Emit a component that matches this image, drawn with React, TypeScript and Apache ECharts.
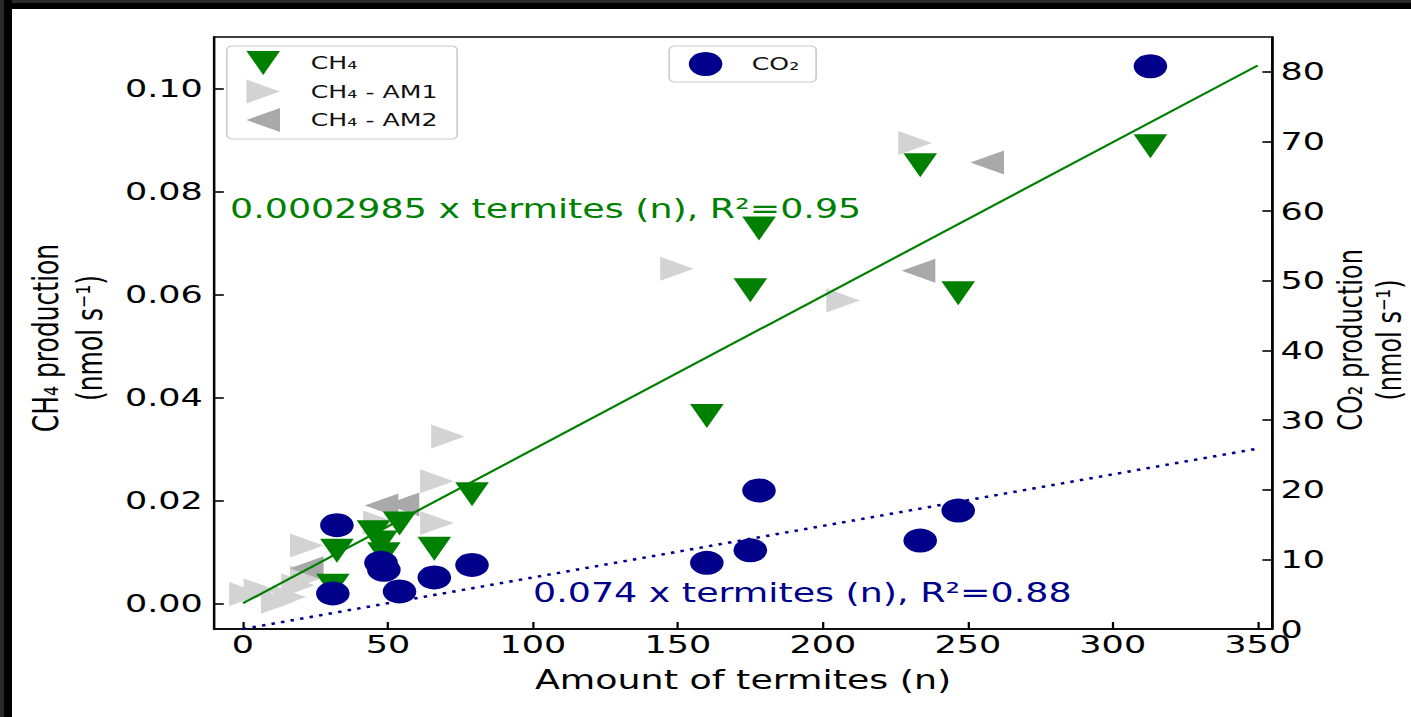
import React, { useEffect, useRef } from "react";
import * as echarts from "echarts";

// horizontal stretch of the reference picture
const S = 1.4;
const W = 1411 / S;
const H = 717;

// CH4 (green, down triangles)
const ch4X = [31, 32.4, 45, 47.6, 48.6, 54, 66, 79, 160, 175, 178, 233.6, 246.7, 313];
const ch4Y = [0.0034, 0.0102, 0.0138, 0.0118, 0.0095, 0.0155, 0.0106, 0.0212, 0.0364, 0.0608, 0.0728, 0.0851, 0.0602, 0.0888];

// CH4 - AM1 (light gray, right triangles)
const am1X = [1, 6, 12, 16, 19, 22, 22, 47.2, 66.9, 66.9, 70.7, 149.7, 207, 231.8];
const am1Y = [0.0018, 0.0025, 0.0003, 0.0012, 0.0035, 0.005, 0.0112, 0.0157, 0.0156, 0.0237, 0.0324, 0.065, 0.0588, 0.0894];

// CH4 - AM2 (dark gray, left triangles)
const am2X = [22, 47.8, 55, 233, 256.7];
const am2Y = [0.0068, 0.019, 0.0192, 0.0646, 0.0856];

// CO2 (navy circles, right axis)
const co2X = [31, 32.4, 47.6, 48.6, 54, 66, 79, 160, 175, 178, 233.6, 246.7, 313];
const co2Y = [5.1, 14.9, 9.5, 8.5, 5.4, 7.4, 9.2, 9.5, 11.3, 19.9, 12.7, 17.0, 80.8];

// regression fits
const ch4Slope = 0.0002985;
const co2Slope = 0.074;
const fitX = [0, 350];

const FONT = "DejaVu Sans";

const ICON_DOWN = "path://M0,0L10,0L5,10Z";
const ICON_RIGHT = "path://M0,0L10,5L0,10Z";
const ICON_LEFT = "path://M10,0L0,5L10,10Z";

const zip = (xs: number[], ys: number[]) => xs.map((x, i) => [x, ys[i]]);

export default function App() {
  const ref = useRef<HTMLDivElement>(null);

  useEffect(() => {
    document.body.style.margin = "0";
    document.body.style.overflow = "hidden";
    const chart = echarts.init(ref.current!, undefined, { renderer: "svg" });

    const axisLineStyle = { color: "#000", width: 1.6 };
    const tickStyle = { show: true, inside: true, length: 7, lineStyle: { color: "#000", width: 1.6 } };
    const labelBase = { fontSize: 25, fontFamily: FONT, color: "#000" };
    const legendBase = {
      orient: "vertical",
      top: 46,
      itemWidth: 24,
      itemHeight: 24,
      selectedMode: false,
      backgroundColor: "rgba(255,255,255,0.8)",
      borderColor: "#cccccc",
      borderWidth: 1.2,
      borderRadius: 4,
    };

    chart.setOption({
      animation: false,
      backgroundColor: "#fff",
      grid: {
        left: 214 / S,
        right: (1411 - 1272) / S,
        top: 37,
        bottom: 88,
        show: true,
        borderColor: "#000",
        borderWidth: 1.6,
        backgroundColor: "transparent",
      },
      xAxis: {
        type: "value",
        min: -10,
        max: 355,
        splitNumber: 7,
        axisLine: { onZero: false, lineStyle: axisLineStyle },
        axisTick: tickStyle,
        splitLine: { show: false },
        axisLabel: { ...labelBase, margin: 3, showMinLabel: false, showMaxLabel: false },
        name: "Amount of termites (n)",
        nameLocation: "middle",
        nameGap: 38,
        nameTextStyle: { fontSize: 26, fontFamily: FONT, color: "#000" },
      },
      yAxis: [
        {
          type: "value",
          min: -0.005,
          max: 0.11,
          splitNumber: 5,
          position: "left",
          axisLine: { show: true, onZero: false, lineStyle: axisLineStyle },
          axisTick: tickStyle,
          splitLine: { show: false },
          axisLabel: {
            ...labelBase,
            margin: 8,
            showMinLabel: false,
            showMaxLabel: false,
            formatter: (v: number) => v.toFixed(2),
          },
        },
        {
          type: "value",
          min: 0,
          max: 85,
          interval: 10,
          position: "right",
          axisLine: { show: true, onZero: false, lineStyle: axisLineStyle },
          axisTick: tickStyle,
          splitLine: { show: false },
          axisLabel: { ...labelBase, margin: 6, showMaxLabel: false },
        },
      ],
      legend: [
        {
          ...legendBase,
          data: [
            { name: "CH₄", icon: ICON_DOWN },
            { name: "CH₄ - AM1", icon: ICON_RIGHT },
            { name: "CH₄ - AM2", icon: ICON_LEFT },
          ],
          left: 162,
          padding: [5, 14, 7, 14],
          itemGap: 4.5,
          textStyle: { fontSize: 18, fontFamily: FONT, color: "#111", padding: [0, 0, 0, 17] },
        },
        {
          ...legendBase,
          data: [{ name: "CO₂", icon: "circle" }],
          left: 478,
          padding: [6, 12, 6, 14],
          textStyle: { fontSize: 18, fontFamily: FONT, color: "#111", padding: [0, 0, 0, 16] },
        },
      ],
      series: [
        {
          name: "CH₄ - AM1",
          type: "scatter",
          symbol: "triangle",
          symbolSize: 24,
          symbolRotate: -90,
          itemStyle: { color: "#d3d3d3", opacity: 1 },
          data: zip(am1X, am1Y),
        },
        {
          name: "CH₄ - AM2",
          type: "scatter",
          symbol: "triangle",
          symbolSize: 24,
          symbolRotate: 90,
          itemStyle: { color: "#a9a9a9", opacity: 1 },
          data: zip(am2X, am2Y),
        },
        {
          name: "CH₄",
          type: "scatter",
          symbol: "triangle",
          symbolSize: 24,
          symbolRotate: 180,
          itemStyle: { color: "#008000", opacity: 1 },
          data: zip(ch4X, ch4Y),
        },
        {
          name: "CH₄ fit",
          type: "line",
          showSymbol: false,
          silent: true,
          lineStyle: { color: "#008000", width: 2 },
          data: fitX.map((x) => [x, ch4Slope * x]),
        },
        {
          name: "CO₂ fit",
          type: "line",
          yAxisIndex: 1,
          showSymbol: false,
          silent: true,
          lineStyle: { color: "#00008B", width: 2.5, type: [2.5, 4.5] },
          data: fitX.map((x) => [x, co2Slope * x]),
        },
        {
          name: "CO₂",
          type: "scatter",
          yAxisIndex: 1,
          symbol: "circle",
          symbolSize: 24,
          itemStyle: { color: "#00008B", opacity: 1 },
          data: zip(co2X, co2Y),
        },
      ],
      graphic: [
        { type: "rect", shape: { x: 0, y: 0, width: W, height: 9 }, style: { fill: "#000" }, silent: true },
        { type: "rect", shape: { x: 0, y: 0, width: W, height: 3 }, style: { fill: "#2a2a2a" }, silent: true },
        { type: "rect", shape: { x: 0, y: 0, width: 12 / S, height: H }, style: { fill: "#000" }, silent: true },
        { type: "rect", shape: { x: 0, y: 0, width: 4 / S, height: H }, style: { fill: "#2a2a2a" }, silent: true },
        {
          type: "text",
          x: 230 / S,
          y: 209,
          style: {
            text: "0.0002985 x termites (n), R²=0.95",
            fontSize: 26,
            fontFamily: FONT,
            fill: "#008000",
            verticalAlign: "middle",
          },
        },
        {
          type: "text",
          x: 533 / S,
          y: 593,
          style: {
            text: "0.074 x termites (n), R²=0.88",
            fontSize: 26,
            fontFamily: FONT,
            fill: "#00008B",
            verticalAlign: "middle",
          },
        },
        {
          type: "text",
          x: 68 / S,
          y: 338,
          rotation: Math.PI / 2,
          style: {
            text: "CH₄ production\n(nmol s⁻¹)",
            fontSize: 25,
            lineHeight: 31,
            fontFamily: FONT,
            fill: "#000",
            align: "center",
            verticalAlign: "middle",
          },
        },
        {
          type: "text",
          x: 1370 / S,
          y: 340,
          rotation: Math.PI / 2,
          style: {
            text: "CO₂ production\n(nmol s⁻¹)",
            fontSize: 24,
            lineHeight: 28,
            fontFamily: FONT,
            fill: "#000",
            align: "center",
            verticalAlign: "middle",
          },
        },
      ],
    });

    return () => chart.dispose();
  }, []);

  return (
    <div
      ref={ref}
      style={{
        width: W + "px",
        height: H + "px",
        transform: `scaleX(${S})`,
        transformOrigin: "0 0",
        background: "#fff",
      }}
    />
  );
}
